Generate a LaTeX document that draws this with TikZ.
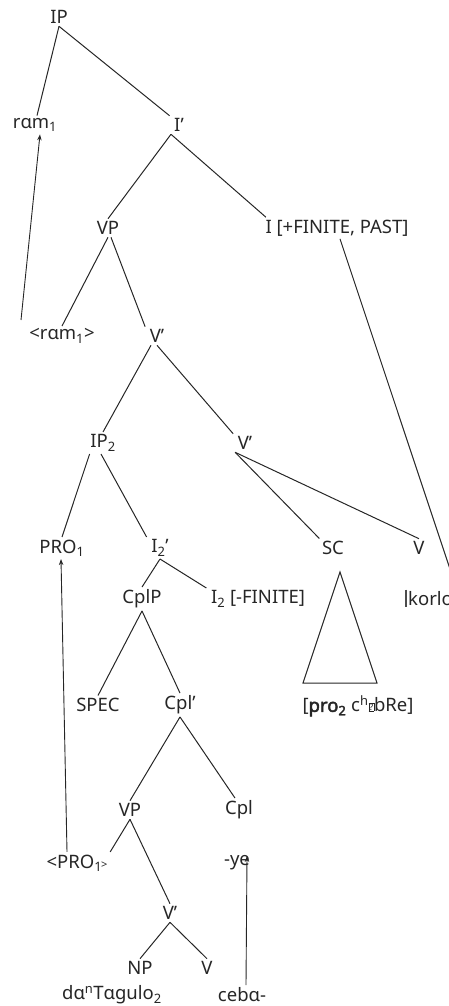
\documentclass[tikz,border=0pt]{standalone}
\usepackage{fontspec}
\setmainfont{Noto Sans}[AutoFakeBold=2.5]
\usetikzlibrary{arrows.meta}
\definecolor{ink}{HTML}{262626}
\newcommand{\qbox}{{\setlength{\fboxsep}{0.3pt}\setlength{\fboxrule}{0.5pt}\raisebox{0.15ex}{\fbox{\fontsize{9}{9}\selectfont ?}}}}
\begin{document}
\begin{tikzpicture}[x=1pt,y=-1pt,
  lab/.style={text=ink,font=\fontsize{18.5}{21}\selectfont,inner sep=2.5pt},
  edge/.style={draw=black!85,line width=1pt},
  arr/.style={edge,-{Stealth[length=6pt,width=4.5pt]},line width=0.9pt}]
\useasboundingbox (0,0) rectangle (449,1006);
\begin{scope}
\clip (0,0) rectangle (449,1006);
% nodes
\node[lab] (IP) at (59,17) {IP};
\node[lab] (ram) at (35,125) {rɑm\textsubscript{1}};
\node[lab] (Ib) at (179,125) {I’};
\node[lab] (VP) at (108,228) {VP};
\node[lab] (Ifin) at (337,228) {I [+FINITE, PAST]};
\node[lab] (ramt) at (62,336) {<rɑm\textsubscript{1}>};
\node[lab] (Vb1) at (157,336) {V’};
\node[lab] (IP2) at (103,443) {IP\textsubscript{2}};
\node[lab] (Vb2) at (245,443) {V’};
\node[lab] (PRO) at (62,548) {PRO\textsubscript{1}};
\node[lab] (I2b) at (160,548) {I\textsubscript{2}’};
\node[lab] (SC) at (333,548) {SC};
\node[lab] (V) at (419,548) {V};
\node[lab] (CplP) at (142,599) {CplP};
\node[lab] (I2) at (258,599) {I\textsubscript{2} [-FINITE]};
\node[lab,anchor=west,inner sep=0pt] (korlo) at (408,599) {korlo};
\node[lab] (pro) at (358,706) {[\textbf{pro\textsubscript{2}} c\textsuperscript{h}\qbox bRe]};
\node[lab] (SPEC) at (98,705) {SPEC};
\node[lab] (Cplb) at (180,705) {Cpl’};
\node[lab] (VP2) at (130,810) {VP};
\node[lab] (Cpl) at (239,810) {Cpl};
\node[lab] (PROt) at (77,863) {<PRO\textsubscript{1}\kern-1pt{\fontsize{11}{11}\selectfont >}};
\node[lab] (ye) at (237,863) {-ye};
\node[lab] (Vb3) at (170,913) {V’};
\node[lab] (NP) at (140,968) {NP};
\node[lab] (V2) at (207,968) {V};
\node[lab] (dat) at (112,995) {dɑ\textsuperscript{n}Tɑgulo\textsubscript{2}};
\node[lab] (ceba) at (242,995) {cebɑ-};
% coordinates
\coordinate (tA) at (340,572);
\coordinate (tL) at (303,683);
\coordinate (tR) at (377,683);
\coordinate (kEnd) at (451,572);
\coordinate (rStart) at (21,320);
% tree edges
\draw[edge] (IP.south) -- ([xshift=2]ram.north);
\draw[edge] (IP.south) -- ([xshift=-2]Ib.north west);
\draw[edge] ([xshift=-8]Ib.south) -- (VP.north);
\draw[edge] ([xshift=-8]Ib.south) -- ([xshift=3]Ifin.north west);
\draw[edge] (VP.south) -- (ramt.north);
\draw[edge] ([xshift=3]VP.south) -- ([xshift=-2]Vb1.north west);
\draw[edge] ([xshift=-6]Vb1.south) -- (IP2.north);
\draw[edge] (Vb1.south) -- ([xshift=-2]Vb2.north west);
\draw[edge] ([xshift=2]IP2.south west) -- (PRO.north);
\draw[edge] ([xshift=-2]IP2.south) -- ([xshift=-2]I2b.north west);
\draw[edge] (Vb2.south west) -- (SC.north west);
\draw[edge] (Vb2.south west) -- (V.north);
\draw[edge] (I2b.south) -- (CplP.north);
\draw[edge] (I2b.south) -- ([xshift=-2]I2.north west);
\draw[edge] (CplP.south) -- (SPEC.north);
\draw[edge] (CplP.south) -- (Cplb.north);
\draw[edge] (Cplb.south) -- (VP2.north);
\draw[edge] (Cplb.south) -- ([xshift=-4]Cpl.north);
\draw[edge] (VP2.south) -- (PROt.north east);
\draw[edge] (VP2.south) -- (Vb3.north);
\draw[edge] (Vb3.south) -- (NP.north);
\draw[edge] (Vb3.south) -- (V2.north);
\draw[edge] (tA) -- (tL) -- (tR) -- cycle;
\draw[edge] ([xshift=3]Ifin.south) -- (kEnd);
\draw[black!70,line width=1.3pt] ([xshift=-2,yshift=2]korlo.north west) -- ([xshift=-2,yshift=-1]korlo.south west);
% movement arrows
\draw[arr] (rStart) -- ([xshift=5]ram.south);
\draw[arr] ([xshift=-10]PROt.north) -- ([xshift=-1]PRO.south);
\draw[arr] ([xshift=4]ceba.north) -- ([xshift=10,yshift=7]ye.center);
\end{scope}
\end{tikzpicture}
\end{document}
